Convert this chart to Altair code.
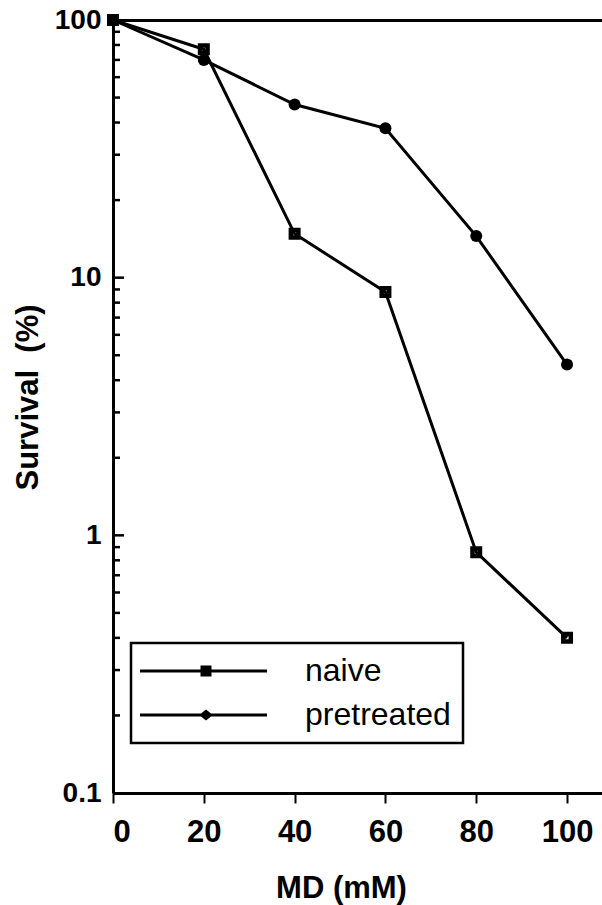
import altair as alt
import pandas as pd

# ---- data ----
md = [0, 20, 40, 60, 80, 100]
naive = [100, 77, 14.8, 8.8, 0.86, 0.40]
pretreated = [100, 70, 47, 38, 14.5, 4.6]
groups = ["naive", "pretreated"]
x_ticks = [0, 20, 40, 60, 80, 100]
y_labels = [0.1, 1, 10, 100]
y_major = [1, 10]
y_minor = [0.2, 0.3, 0.4, 0.5, 0.6, 0.7, 0.8, 0.9,
           2, 3, 4, 5, 6, 7, 8, 9,
           20, 30, 40, 50, 60, 70, 80, 90]

rows = []
for g, vals in zip(groups, [naive, pretreated]):
    for d, v in zip(md, vals):
        rows.append({"MD": d, "Survival": v, "group": g})
df = pd.DataFrame(rows)
minor_df = pd.DataFrame({"Survival": [float(v) for v in y_minor]})
major_df = pd.DataFrame({"Survival": [float(v) for v in y_major]})

W, H = 489, 773
FONT = "Liberation Sans"

xdom = [0, 107.7]
ydom = [0.1, 100]


def xs():
    return alt.Scale(domain=xdom, nice=False, zero=False)


def ys():
    return alt.Scale(type="log", domain=ydom, nice=False)


base = alt.Chart(df)

x_main = alt.X(
    "MD:Q", scale=xs(),
    axis=alt.Axis(values=x_ticks, title="MD (mM)", grid=False,
                  labelFont=FONT, labelFontSize=31, labelFontWeight="bold",
                  labelPadding=14, tickSize=10, tickWidth=2, tickColor="black",
                  domainWidth=3, domainColor="black", labelColor="black",
                  titleFont=FONT, titleFontSize=31, titleFontWeight="bold",
                  titleColor="black", titleX=228, titleY=104,
                  titleBaseline="alphabetic", titleAnchor="middle",
                  titleAlign="center"))
y_main = alt.Y(
    "Survival:Q", scale=ys(),
    axis=alt.Axis(values=y_labels, title="Survival\u00a0\u00a0(%)", grid=False,
                  labelExpr="datum.value < 1 ? '0.1' : format(datum.value, 'd')",
                  labelFont=FONT, labelFontSize=28, labelFontWeight="bold",
                  labelColor="black", labelPadding=12, labelBaseline="middle",
                  labelOverlap=False,
                  ticks=False, tickSize=0, domainWidth=3, domainColor="black",
                  titleFont=FONT, titleFontSize=31, titleFontWeight="bold",
                  titleColor="black", titleX=-85, titleY=377, titleAngle=270,
                  titleAlign="center", titleBaseline="middle"))

lines = base.mark_line(color="black", strokeWidth=3).encode(
    x=x_main, y=y_main, detail="group:N")

square_hole = "M-1,-1H1V1H-1Z M-0.25,-0.25V0.25H0.25V-0.25Z"
points = base.mark_point(filled=True, color="black", size=144, opacity=1).encode(
    x=x_main, y=y_main,
    shape=alt.Shape("group:N",
                    scale=alt.Scale(domain=groups, range=[square_hole, "circle"]),
                    legend=None))

# inward y-axis ticks drawn as short horizontal strokes (y from the log scale)
tick_path = "M-1,0H1"
minor_ticks = alt.Chart(minor_df).mark_point(
    shape=tick_path, size=49, stroke="black", strokeWidth=2.5, opacity=1
).encode(y=y_main, x=alt.value(3.5))
major_ticks = alt.Chart(major_df).mark_point(
    shape=tick_path, size=121, stroke="black", strokeWidth=2.5, opacity=1
).encode(y=y_main, x=alt.value(5.5))

leg_naive = "M-13.2,0H12.2M-0.8,-0.8H0.8V0.8H-0.8Z"
leg_pre = "M-13.2,0H12.2M0,-0.7L0.9,0L0,0.7L-0.9,0Z"
legend_layer = base.mark_point(
    fill="black", stroke="black", strokeWidth=3, opacity=0
).encode(
    x=x_main, y=y_main,
    shape=alt.Shape("group:N",
                    scale=alt.Scale(domain=groups, range=[leg_naive, leg_pre]),
                    legend=alt.Legend(title=None, orient="none",
                                      legendX=18, legendY=623,
                                      strokeColor="black", padding=12,
                                      symbolSize=100, symbolOffset=47,
                                      symbolStrokeWidth=3,
                                      symbolOpacity=1,
                                      labelFont=FONT, labelFontSize=32,
                                      labelColor="black", labelOffset=83,
                                      rowPadding=12)))

main = alt.layer(lines, points, minor_ticks, major_ticks,
                 legend_layer).resolve_scale(shape="independent")

helper = base.mark_point(opacity=0).encode(
    x=alt.X("MD:Q", scale=xs(),
            axis=alt.Axis(orient="top", labels=False, ticks=False, domain=True,
                          domainWidth=3, domainColor="black", grid=False,
                          title=None)),
    y=alt.Y("Survival:Q", scale=ys(), axis=None))

chart = alt.layer(main, helper).resolve_scale(
    x="independent", y="independent"
).properties(
    width=W, height=H,
    padding={"left": 113, "top": 20, "right": 0, "bottom": 112},
    autosize=alt.AutoSizeParams(type="none"),
    background="white",
).configure_view(stroke=None).configure_legend(strokeWidth=2.5)

chart.save("out.html", embed_options={"renderer": "svg", "actions": False})
